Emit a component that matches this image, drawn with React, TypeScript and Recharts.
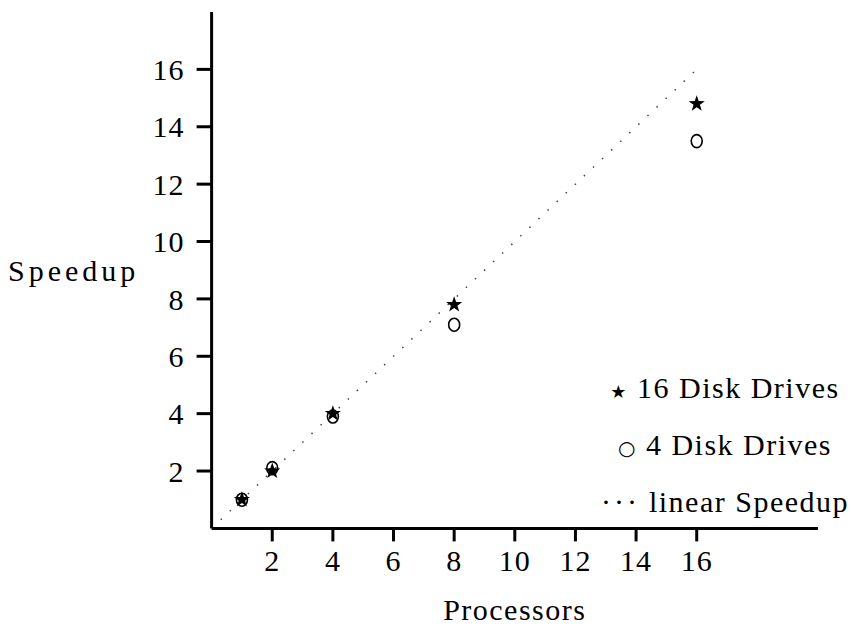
import React from "react";
import {
  ScatterChart,
  Scatter,
  XAxis,
  YAxis,
  Label,
} from "recharts";

const processors = [1, 2, 4, 8, 16];
const speedup16 = [1.0, 2.0, 4.0, 7.8, 14.8];
const speedup4 = [1.0, 2.1, 3.9, 7.1, 13.5];
const linearX = [0.3, 16];
const xTicks = [2, 4, 6, 8, 10, 12, 14, 16];
const yTicks = [2, 4, 6, 8, 10, 12, 14, 16];

const data16 = processors.map((p, i) => ({ x: p, y: speedup16[i] }));
const data4 = processors.map((p, i) => ({ x: p, y: speedup4[i] }));
const linearData = linearX.map((v) => ({ x: v, y: v }));

const FONT = "'Liberation Serif', 'DejaVu Serif', serif";

function StarShape(props: any) {
  const { cx, cy } = props;
  if (cx == null || cy == null) return <g />;
  const outer = 8.5;
  const inner = 3.4;
  const pts: string[] = [];
  for (let i = 0; i < 10; i++) {
    const r = i % 2 === 0 ? outer : inner;
    const a = -Math.PI / 2 + (i * Math.PI) / 5;
    pts.push(`${cx + r * Math.cos(a)},${cy + r * Math.sin(a)}`);
  }
  return <polygon points={pts.join(" ")} fill="#000" />;
}

function CircleShape(props: any) {
  const { cx, cy } = props;
  if (cx == null || cy == null) return <g />;
  return (
    <ellipse cx={cx} cy={cy} rx={5.5} ry={6.5} fill="none" stroke="#000" strokeWidth={1.6} />
  );
}

const tickStyle = { fontSize: 30, fill: "#000", fontFamily: FONT, letterSpacing: 1 };

const legendLine: React.CSSProperties = {
  height: 57,
  lineHeight: "57px",
  whiteSpace: "nowrap",
};

export default function App() {
  return (
    <div
      style={{
        position: "absolute",
        top: 0,
        left: 0,
        width: 851,
        height: 630,
        background: "#fff",
        fontFamily: FONT,
      }}
    >
      <ScatterChart
        width={851}
        height={630}
        margin={{ top: 12, right: 33, bottom: 0, left: 0 }}
      >
        <XAxis
          type="number"
          dataKey="x"
          domain={[0, 20]}
          ticks={xTicks}
          allowDataOverflow
          height={101.6}
          tickSize={13}
          tickMargin={8}
          axisLine={{ stroke: "#000", strokeWidth: 3 }}
          tickLine={{ stroke: "#000", strokeWidth: 3 }}
          tick={tickStyle}
        >
          <Label
            value="Processors"
            position="insideBottom"
            offset={10}
            style={{ fontSize: 30, fill: "#000", fontFamily: FONT, letterSpacing: 1.5 }}
          />
        </XAxis>
        <YAxis
          type="number"
          dataKey="y"
          domain={[0, 18]}
          ticks={yTicks}
          allowDataOverflow
          width={211.6}
          tickSize={15}
          tickMargin={12}
          axisLine={{ stroke: "#000", strokeWidth: 3 }}
          tickLine={{ stroke: "#000", strokeWidth: 3 }}
          tick={tickStyle}
        >
          <Label
            value="Speedup"
            position="insideLeft"
            offset={8}
            angle={0}
            style={{ fontSize: 30, fill: "#000", fontFamily: FONT, letterSpacing: 4, textAnchor: "start" }}
          />
        </YAxis>
        <Scatter
          name="linear Speedup"
          data={linearData}
          line={{ stroke: "#444", strokeWidth: 1.5, strokeDasharray: "1.5 11" }}
          shape={() => <g />}
          isAnimationActive={false}
        />
        <Scatter
          name="4 Disk Drives"
          data={data4}
          shape={CircleShape}
          isAnimationActive={false}
        />
        <Scatter
          name="16 Disk Drives"
          data={data16}
          shape={StarShape}
          isAnimationActive={false}
        />
      </ScatterChart>
      <div
        style={{
          position: "absolute",
          left: 600,
          top: 359,
          width: 250,
          textAlign: "center",
          fontSize: 30,
          letterSpacing: 1.5,
          color: "#000",
        }}
      >
        <div style={legendLine}>
          <span style={{ fontSize: 18, fontFamily: "'DejaVu Sans', sans-serif", verticalAlign: "middle" }}>★</span>{" "}
          16 Disk Drives
        </div>
        <div style={legendLine}>
          <span style={{ fontSize: 20, fontFamily: "'DejaVu Sans', sans-serif", verticalAlign: "middle" }}>○</span>{" "}
          4 Disk Drives
        </div>
        <div style={legendLine}>
          <span style={{ letterSpacing: 3 }}>···</span> linear Speedup
        </div>
      </div>
    </div>
  );
}
